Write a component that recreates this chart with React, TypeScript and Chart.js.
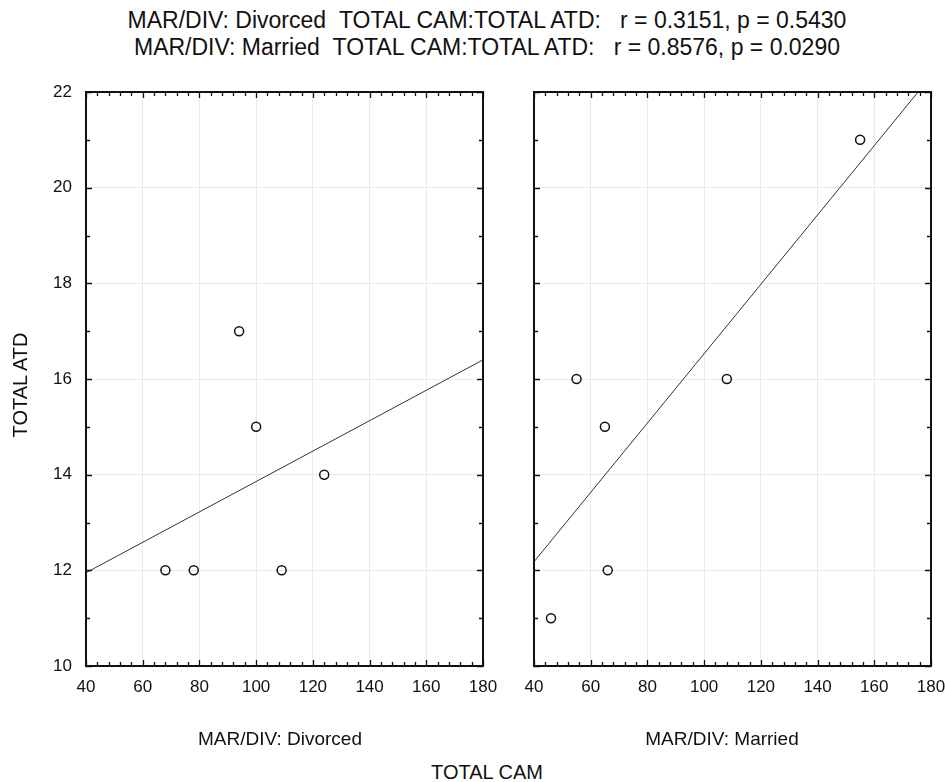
import React, { useEffect, useRef } from "react";
import { Chart, registerables } from "chart.js";

Chart.register(...registerables);

// ---- data ----
const xMin = 40;
const xMax = 180;
const yMin = 10;
const yMax = 22;
const xStep = 20;
const yStep = 2;

const divorcedCam = [68, 78, 94, 100, 109, 124];
const divorcedAtd = [12, 12, 17, 15, 12, 14];
const marriedCam = [46, 55, 65, 66, 108, 155];
const marriedAtd = [11, 16, 15, 12, 16, 21];

const fitCam = [40, 180];
const divorcedFit = [11.95, 16.4];
const marriedFit = [12.18, 22.33];

const titleLines = [
  "MAR/DIV: Divorced\u00a0\u00a0TOTAL CAM:TOTAL ATD:\u00a0\u00a0\u00a0r = 0.3151, p = 0.5430",
  "MAR/DIV: Married\u00a0\u00a0TOTAL CAM:TOTAL ATD:\u00a0\u00a0\u00a0r = 0.8576, p = 0.0290",
];
const panelLabels = ["MAR/DIV: Divorced", "MAR/DIV: Married"];
const xTitle = "TOTAL CAM";
const yTitle = "TOTAL ATD";

const FONT = '"Liberation Sans", Arial, sans-serif';

const framePlugin = {
  id: "frameTicks",
  afterDatasetsDraw(chart: any) {
    const { ctx, chartArea } = chart;
    const xs = chart.scales.x;
    const ys = chart.scales.y;
    ctx.save();
    ctx.strokeStyle = "#111";
    ctx.lineWidth = 1.3;
    ctx.beginPath();
    for (let v = xMin; v <= xMax; v += 4) {
      const px = Math.round(xs.getPixelForValue(v)) + 0.5;
      const len = (v - xMin) % xStep === 0 ? 6 : 4;
      ctx.moveTo(px, chartArea.bottom);
      ctx.lineTo(px, chartArea.bottom - len);
      ctx.moveTo(px, chartArea.top);
      ctx.lineTo(px, chartArea.top + len);
    }
    for (let v = yMin; v <= yMax; v += 1) {
      const py = Math.round(ys.getPixelForValue(v)) + 0.5;
      const len = (v - yMin) % yStep === 0 ? 6 : 4;
      ctx.moveTo(chartArea.left, py);
      ctx.lineTo(chartArea.left + len, py);
      ctx.moveTo(chartArea.right, py);
      ctx.lineTo(chartArea.right - len, py);
    }
    ctx.stroke();
    ctx.lineWidth = 2;
    ctx.strokeRect(chartArea.left, chartArea.top, chartArea.right - chartArea.left, chartArea.bottom - chartArea.top);
    ctx.restore();
  },
};

function makePoints(xs: number[], ys: number[]) {
  return xs.map((x, i) => ({ x, y: ys[i] }));
}

function zeroPad(s: any) {
  s.paddingLeft = 0;
  s.paddingRight = 0;
  s.paddingTop = 0;
  s.paddingBottom = 0;
}

function Panel(props: {
  cam: number[];
  atd: number[];
  fit: number[];
  showY: boolean;
  left: number;
  width: number;
  yWidth: number;
  padRight: number;
}) {
  const ref = useRef<HTMLCanvasElement | null>(null);
  useEffect(() => {
    if (!ref.current) return;
    const chart = new Chart(ref.current, {
      type: "scatter",
      data: {
        datasets: [
          {
            data: makePoints(props.cam, props.atd),
            pointStyle: "circle",
            pointRadius: 4.5,
            pointBorderWidth: 1.5,
            borderColor: "#111",
            backgroundColor: "rgba(255,255,255,0)",
            showLine: false,
          } as any,
          {
            data: makePoints(fitCam, props.fit),
            showLine: true,
            pointRadius: 0,
            borderColor: "#333",
            borderWidth: 1,
            fill: false,
          } as any,
        ],
      },
      options: {
        animation: false,
        responsive: true,
        maintainAspectRatio: false,
        layout: { autoPadding: false, padding: { left: 0, top: 22, right: props.padRight, bottom: 0 } },
        plugins: { legend: { display: false }, tooltip: { enabled: false }, title: { display: false } },
        scales: {
          x: {
            type: "linear",
            min: xMin,
            max: xMax,
            ticks: {
              stepSize: xStep,
              color: "#111",
              padding: 11,
              font: { family: FONT, size: 17 },
              maxRotation: 0,
            },
            grid: { color: "#eaeaea", drawTicks: false, lineWidth: 1 },
            border: { display: false },
            afterFit: (s: any) => {
              s.height = 44;
              zeroPad(s);
            },
          },
          y: {
            type: "linear",
            min: yMin,
            max: yMax,
            ticks: {
              display: props.showY,
              stepSize: yStep,
              color: "#111",
              padding: 14,
              font: { family: FONT, size: 17 },
            },
            grid: { color: "#eaeaea", drawTicks: false, lineWidth: 1 },
            border: { display: false },
            afterFit: (s: any) => {
              s.width = props.yWidth;
              zeroPad(s);
            },
          },
        },
      },
      plugins: [framePlugin],
    } as any);
    return () => chart.destroy();
  }, []);
  return (
    <div style={{ position: "absolute", left: props.left, top: 70, width: props.width, height: 640 }}>
      <canvas ref={ref} />
    </div>
  );
}

function Text(props: { text: string; cx: number; cy: number; size: number; rotate?: boolean }) {
  return (
    <div
      style={{
        position: "absolute",
        left: props.cx - 400,
        top: props.cy - props.size / 2,
        width: 800,
        height: props.size,
        lineHeight: `${props.size}px`,
        fontSize: props.size,
        fontFamily: FONT,
        color: "#111",
        textAlign: "center",
        whiteSpace: "nowrap",
        transform: props.rotate ? "rotate(-90deg)" : undefined,
        transformOrigin: "50% 50%",
      }}
    >
      {props.text}
    </div>
  );
}

export default function App() {
  return (
    <div
      style={{
        position: "fixed",
        left: 0,
        top: 0,
        width: 945,
        height: 782,
        background: "#fff",
        overflow: "hidden",
      }}
    >
      <Text text={titleLines[0]} cx={487} cy={20} size={23} />
      <Text text={titleLines[1]} cx={487} cy={47} size={23} />
      <Panel cam={divorcedCam} atd={divorcedAtd} fit={divorcedFit} showY={true} left={0} width={500} yWidth={86} padRight={17} />
      <Panel cam={marriedCam} atd={marriedAtd} fit={marriedFit} showY={false} left={500} width={445} yWidth={34} padRight={14} />
      <Text text={yTitle} cx={20} cy={385} size={20} rotate={true} />
      <Text text={panelLabels[0]} cx={280} cy={738} size={19} />
      <Text text={panelLabels[1]} cx={722} cy={738} size={19} />
      <Text text={xTitle} cx={487} cy={772} size={20} />
    </div>
  );
}
